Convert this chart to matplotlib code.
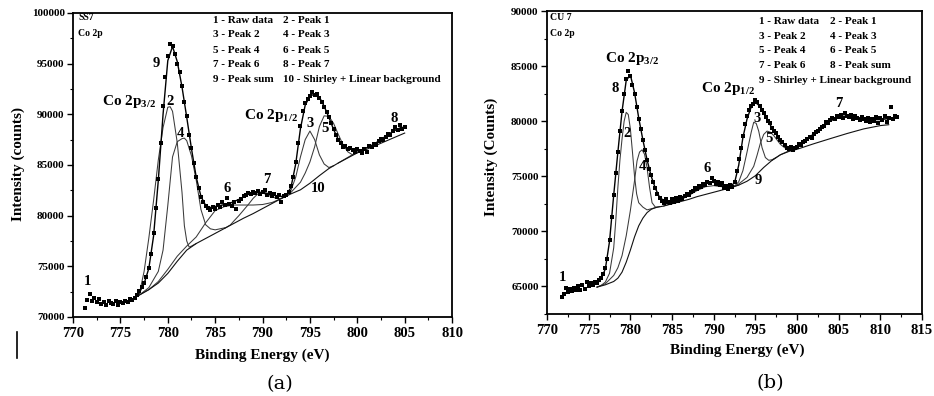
import numpy as np
import matplotlib
matplotlib.use("Agg")
import matplotlib.pyplot as plt
from matplotlib.ticker import MultipleLocator

plt.rcParams['font.family'] = ['Liberation Serif', 'DejaVu Serif']
plt.rcParams['mathtext.fontset'] = 'custom'
plt.rcParams['mathtext.rm'] = 'Liberation Serif'
plt.rcParams['mathtext.bf'] = 'Liberation Serif:bold'

# ---------------- Panel (a): SS7 Co 2p ----------------
a_raw_start, a_raw_step = 771.25, 0.25
a_raw = [
    70900, 71700, 72300, 71600,   # 771.25
    71900, 71500, 71800, 71300,   # 772.25
    71500, 71200, 71600, 71400,   # 773.25
    71300, 71600, 71200, 71500,   # 774.25
    71400, 71600, 71500, 71800,   # 775.25
    71700, 71900, 72200, 72600,   # 776.25
    73000, 73400, 73900, 74800,   # 777.25
    76200, 78300, 80800, 83600,   # 778.25
    87200, 90800, 93700, 95800,   # 779.25
    96900, 96700, 96000, 95000,   # 780.25
    94200, 92800, 91200, 89800,   # 781.25
    88000, 86700, 85200, 83800,   # 782.25
    82700, 81800, 81300, 81000,   # 783.25
    80800, 80600, 80900, 80700,   # 784.25
    81100, 80900, 81300, 81100,   # 785.25
    81700, 81200, 81000, 81300,   # 786.25
    80700, 81400, 81600, 81900,   # 787.25
    82000, 82200, 82100, 82300,   # 788.25
    82200, 82400, 82100, 82300,   # 789.25
    82500, 82000, 82200, 81900,   # 790.25
    82100, 81800, 82000, 81300,   # 791.25
    81900, 82000, 82300, 82900,   # 792.25
    83800, 85300, 87200, 88800,   # 793.25
    90300, 91100, 91500, 91800,   # 794.25
    92200, 91900, 92000, 91600,   # 795.25
    91200, 90700, 90200, 89700,   # 796.25
    89100, 88600, 88000, 87500,   # 797.25
    87200, 86800, 86900, 86600,   # 798.25
    86700, 86500, 86300, 86600,   # 799.25
    86400, 86200, 86600, 86300,   # 800.25
    86900, 86800, 87100, 87000,   # 801.25
    87400, 87600, 87500, 87800,   # 802.25
    88100, 88000, 88400, 88700,   # 803.25
    88500, 88900, 88600, 88700,   # 804.25
]

a_sum_E = [777.0, 777.5, 778.0, 778.5, 779.0, 779.5, 780.0, 780.5, 781.0, 781.5,
           782.0, 782.5, 783.0, 783.5, 784.0, 784.5, 785.0, 785.5, 786.0, 786.5,
           787.0, 787.5, 788.0, 788.5, 789.0, 789.5, 790.0, 790.5, 791.0, 791.5,
           792.0, 792.5, 793.0, 793.5, 794.0, 794.5, 795.0, 795.5, 796.0, 796.5,
           797.0, 797.5, 798.0, 798.5, 799.0, 799.5, 800.0, 800.5, 801.0, 801.5,
           802.0, 802.5, 803.0, 803.5, 804.0, 804.5, 805.0]
a_sum_I = [72400, 73300, 74800, 78000, 83500, 90000, 95300, 96700, 95200, 92700,
           89700, 86600, 83800, 81900, 81000, 80800, 80900, 81000, 81100, 81200,
           81400, 81600, 81850, 82100, 82250, 82300, 82300, 82200, 82050, 81950,
           81900, 82000, 82800, 85100, 88600, 90900, 91800, 92000, 91700, 90800,
           89700, 88500, 87500, 86900, 86600, 86500, 86450, 86500, 86700, 86900,
           87200, 87500, 87850, 88150, 88450, 88650, 88750]

a_bg_E = [777, 778, 779, 780, 781, 782, 783, 784, 785, 786, 787, 788, 789, 790,
          791, 792, 793, 794, 795, 796, 797, 798, 799, 800, 801, 802, 803, 804, 805]
a_bg_I = [72170, 72700, 73350, 74300, 75500, 76600, 77250, 77750, 78250, 78750,
          79250, 79750, 80200, 80700, 81200, 81700, 82150, 82550, 83200, 83950,
          84650, 85200, 85700, 86200, 86550, 86950, 87350, 87750, 88150]

a_p1_E = [777.0, 777.5, 778.0, 778.5, 779.0, 779.5, 780.0, 780.25, 780.5, 781.0,
          781.5, 781.75, 782.0, 782.25, 782.5, 783.0]
a_p1_I = [72300, 74500, 77800, 81500, 85500, 88700, 90700, 90750, 90300, 87200,
          82300, 79000, 77500, 76900, 77000, 77250]

a_p3_E = [777.0, 778.0, 779.0, 779.5, 780.0, 780.5, 781.0, 781.5, 781.75, 782.0,
          782.5, 783.0, 783.5, 784.0, 784.5, 785.0, 785.5, 786.0]
a_p3_I = [72170, 72900, 74500, 76600, 81000, 85800, 87300, 87600, 87650, 87400,
          85900, 83500, 80600, 79100, 78700, 78600, 78700, 78800]

a_p5_E = [777, 778, 779, 780, 781, 782, 783, 784, 785, 786, 787, 788, 789, 790, 791, 792]
a_p5_I = [72170, 72700, 73500, 74700, 76000, 77000, 77900, 79300, 80500, 80900,
          81050, 81050, 81050, 81100, 81300, 81700]

a_p6_E = [786.0, 786.6, 787.0, 787.5, 788.0, 788.5, 789.0, 789.5, 790.0, 790.5,
          791.0, 791.5, 792.0]
a_p6_I = [78750, 79080, 79500, 80000, 80550, 81100, 81700, 82150, 82250, 82050,
          81850, 81700, 81700]

a_p2_E = [792.0, 792.5, 793.0, 793.5, 794.0, 794.5, 795.0, 795.5, 796.0, 796.5, 797.0, 797.5]
a_p2_I = [81700, 81950, 82500, 83800, 85800, 87500, 88350, 87500, 86000, 85100, 84750, 84930]

a_p4_E = [792.0, 793.0, 794.0, 794.5, 795.0, 795.5, 796.0, 796.5, 797.0, 797.5,
          798.0, 798.5, 799.0, 799.5, 800.0]
a_p4_I = [81700, 82300, 83300, 84200, 85300, 86800, 88800, 89850, 89800, 89100,
          88000, 87000, 86300, 86000, 86200]

a_p7_E = [798, 799, 800, 801, 802, 803, 804, 805]
a_p7_I = [85200, 85750, 86300, 86700, 87200, 87800, 88400, 88750]

# ---------------- Panel (b): CU 7 Co 2p ----------------
b_raw_start, b_raw_step = 771.75, 0.25
b_raw = [
    64000, 64300, 64900, 64500,   # 771.75
    64800, 64600, 64900, 64700,   # 772.75
    65000, 64700, 65100, 64800,   # 773.75
    65400, 65000, 65300, 65100,   # 774.75
    65400, 65300, 65600, 65800,   # 775.75
    66100, 66700, 67500, 69200,   # 776.75
    71300, 73300, 75300, 77200,   # 777.75
    79100, 80900, 82500, 83800,   # 778.75
    84600, 84100, 83300, 82500,   # 779.75
    81300, 80200, 79300, 78300,   # 780.75
    77400, 76500, 75700, 75100,   # 781.75
    74500, 73900, 73400, 73000,   # 782.75
    72800, 72600, 72900, 72700,   # 783.75
    72600, 72900, 72700, 73000,   # 784.75
    72800, 73100, 72900, 73200,   # 785.75
    73400, 73300, 73600, 73700,   # 786.75
    73900, 73800, 74100, 74000,   # 787.75
    74300, 74200, 74500, 74400,   # 788.75
    74800, 74600, 74300, 74500,   # 789.75
    74200, 74400, 73900, 74100,   # 790.75
    73800, 74200, 74000, 74500,   # 791.75
    75500, 76600, 77600, 78700,   # 792.75
    79700, 80500, 81000, 81400,   # 793.75
    81600, 81900, 81700, 81400,   # 794.75
    81000, 80700, 80400, 80000,   # 795.75
    79800, 79400, 79100, 78900,   # 796.75
    78600, 78300, 78100, 77800,   # 797.75
    77600, 77500, 77700, 77400,   # 798.75
    77600, 77700, 77900, 77800,   # 799.75
    78100, 78200, 78400, 78600,   # 800.75
    78500, 78800, 79000, 79100,   # 801.75
    79300, 79500, 79600, 79900,   # 802.75
    79800, 80100, 80300, 80200,   # 803.75
    80500, 80400, 80600, 80300,   # 804.75
    80700, 80500, 80400, 80600,   # 805.75
    80200, 80500, 80300, 80100,   # 806.75
    80400, 80200, 80000, 80300,   # 807.75
    79900, 80200, 80000, 80400,   # 808.75
    79800, 80300, 80100, 80500,   # 809.75
    79900, 80300, 81300, 80200,   # 810.75
    80500, 80400,                 # 811.75
]

b_sum_E = [776.0, 776.5, 777.0, 777.5, 778.0, 778.5, 779.0, 779.5, 780.0, 780.5,
           781.0, 781.5, 782.0, 782.5, 783.0, 783.5, 784.0, 784.5, 785.0, 785.5,
           786.0, 786.5, 787.0, 787.5, 788.0, 788.5, 789.0, 789.5, 790.0, 790.5,
           791.0, 791.5, 792.0, 792.5, 793.0, 793.5, 794.0, 794.5, 795.0, 795.5,
           796.0, 796.5, 797.0, 797.5, 798.0, 798.5, 799.0, 799.5, 800.0, 800.5,
           801.0, 801.5, 802.0, 802.5, 803.0, 803.5, 804.0, 804.5, 805.0, 805.5,
           806.0, 806.5, 807.0, 807.5, 808.0, 808.5, 809.0, 809.5, 810.0, 810.5, 811.0]
b_sum_I = [65250, 65700, 66600, 69100, 73300, 77200, 80900, 83700, 84200, 82600,
           80300, 78300, 76500, 75000, 73900, 73100, 72800, 72750, 72800, 72900,
           73050, 73250, 73450, 73700, 73950, 74150, 74300, 74450, 74450, 74350,
           74200, 74100, 74100, 74400, 76000, 78500, 80200, 81300, 81700, 81400,
           80700, 80000, 79400, 78850, 78300, 77850, 77600, 77600, 77750, 77950,
           78250, 78550, 78850, 79150, 79450, 79750, 80050, 80250, 80400, 80450,
           80450, 80400, 80350, 80300, 80250, 80200, 80150, 80150, 80150, 80200, 80250]

b_bg_E = [776.0, 777.0, 778.0, 778.5, 779.0, 779.5, 780.0, 780.5, 781.0, 781.5,
          782.0, 782.5, 783.0, 784, 785, 786, 787, 788, 789, 790, 791, 792, 793,
          794, 795, 796, 797, 798, 799, 800, 802, 804, 806, 808, 810, 811]
b_bg_I = [64940, 65150, 65450, 65750, 66300, 67200, 68300, 69500, 70500, 71200,
          71700, 72000, 72150, 72300, 72500, 72700, 72900, 73150, 73350, 73550,
          73750, 73950, 74200, 74550, 75050, 75800, 76450, 76950, 77250, 77450,
          77950, 78420, 78880, 79300, 79600, 79680]

b_p1_E = [776.0, 776.5, 777.0, 777.5, 778.0, 778.25, 778.5, 778.75, 779.0, 779.25,
          779.5, 779.75, 780.0, 780.25, 780.5, 780.75, 781.0, 781.5, 782.0, 782.5, 783.0]
b_p1_I = [64940, 65100, 65400, 66200, 68500, 71000, 74000, 76500, 78400, 80000,
          80800, 80600, 79300, 77200, 75000, 73400, 72600, 72200, 71950, 72050, 72150]

b_p3_E = [776.0, 777.0, 778.0, 778.5, 779.0, 779.5, 780.0, 780.5, 780.8, 781.1,
          781.4, 781.7, 782.0, 782.3, 782.6, 783.0, 783.5]
b_p3_I = [64940, 65250, 66000, 66700, 67800, 69600, 71900, 74600, 76400, 77200,
          77400, 77000, 75800, 74000, 72600, 72200, 72250]

b_p5_E = [784, 785, 786, 787, 788, 789, 790, 791, 792, 793]
b_p5_I = [72300, 72550, 72850, 73250, 73700, 74050, 74150, 74050, 74000, 74200]

b_p2_E = [792.0, 792.5, 793.0, 793.5, 794.0, 794.5, 794.8, 795.1, 795.4, 795.8,
          796.2, 796.6, 797.0, 797.5]
b_p2_I = [73950, 74100, 74500, 75500, 77200, 79000, 79900, 79800, 79100, 77600,
          76700, 76450, 76500, 76700]

b_p4_E = [792.0, 793.0, 794.0, 794.8, 795.2, 795.6, 796.0, 796.4, 796.8, 797.2,
          797.6, 798.0, 798.5, 799.0, 799.6]
b_p4_I = [73950, 74300, 74900, 75900, 76900, 78000, 78800, 79100, 79000, 78700,
          78300, 77900, 77600, 77400, 77400]

b_p6_E = [797, 798, 799, 800, 801, 802, 803, 804, 805, 806, 807, 808, 809, 810, 811]
b_p6_I = [76450, 76950, 77300, 77700, 78150, 78750, 79400, 80000, 80350, 80450,
          80350, 80250, 80150, 80150, 80250]

a_legend = [("1 - Raw data", "2 - Peak 1"), ("3 - Peak 2", "4 - Peak 3"),
            ("5 - Peak 4", "6 - Peak 5"), ("7 - Peak 6", "8 - Peak 7"),
            ("9 - Peak sum", "10 - Shirley + Linear background")]
b_legend = [("1 - Raw data", "2 - Peak 1"), ("3 - Peak 2", "4 - Peak 3"),
            ("5 - Peak 4", "6 - Peak 5"), ("7 - Peak 6", "8 - Peak sum"),
            ("9 - Shirley + Linear background", "")]

fig = plt.figure(figsize=(9.34, 3.96), dpi=100)
axa = fig.add_axes([0.0782, 0.1995, 0.4058, 0.7677])
axb = fig.add_axes([0.5857, 0.2071, 0.4015, 0.7651])

PEAK_KW = dict(color='#3a3a3a', lw=0.75, zorder=2)
BG_KW = dict(color='#111111', lw=0.8, zorder=2)
SUM_KW = dict(color='#000000', lw=1.0, zorder=3)
RAW_KW = dict(ls='none', marker='s', ms=2.6, color='black', mec='black', mew=0, zorder=4)


def style_axes(ax, xlim, ylim, xmaj, ymaj):
    ax.set_xlim(*xlim)
    ax.set_ylim(*ylim)
    ax.xaxis.set_major_locator(MultipleLocator(xmaj))
    ax.xaxis.set_minor_locator(MultipleLocator(xmaj / 2))
    ax.yaxis.set_major_locator(MultipleLocator(ymaj))
    ax.yaxis.set_minor_locator(MultipleLocator(ymaj / 2))
    ax.tick_params(axis='both', which='major', direction='out', length=4, width=1.0)
    ax.tick_params(axis='both', which='minor', direction='out', length=2.5, width=0.8)
    ax.tick_params(top=False, right=False, which='both')
    ax.tick_params(axis='x', labelsize=10.5, pad=3)
    ax.tick_params(axis='y', labelsize=8, pad=2)
    for lab in ax.get_xticklabels() + ax.get_yticklabels():
        lab.set_fontweight('bold')
    for sp in ax.spines.values():
        sp.set_linewidth(1.3)


# ---- panel a
Ea = a_raw_start + a_raw_step * np.arange(len(a_raw))
for E, I in [(a_p1_E, a_p1_I), (a_p3_E, a_p3_I), (a_p5_E, a_p5_I), (a_p6_E, a_p6_I),
             (a_p2_E, a_p2_I), (a_p4_E, a_p4_I), (a_p7_E, a_p7_I)]:
    axa.plot(E, I, **PEAK_KW)
axa.plot(a_bg_E, a_bg_I, **BG_KW)
axa.plot(a_sum_E, a_sum_I, **SUM_KW)
axa.plot(Ea, a_raw, **RAW_KW)
style_axes(axa, (770, 810), (70000, 100000), 5, 5000)

TXT = dict(fontweight='bold', ha='center', va='center', zorder=6)
axa.text(778.8, 95040, "9", fontsize=10.5, **TXT)
axa.text(775.9, 91300, r"Co 2p$_{\mathbf{3/2}}$", fontsize=11, **TXT)
axa.text(780.2, 91250, "2", fontsize=10.5, **TXT)
axa.text(781.3, 88130, "4", fontsize=10.5, **TXT)
axa.text(790.9, 89900, r"Co 2p$_{\mathbf{1/2}}$", fontsize=11, **TXT)
axa.text(795.0, 89100, "3", fontsize=10.5, **TXT)
axa.text(796.6, 88620, "5", fontsize=10.5, **TXT)
axa.text(803.9, 89610, "8", fontsize=10.5, **TXT)
axa.text(790.4, 83520, "7", fontsize=10.5, **TXT)
axa.text(786.3, 82700, "6", fontsize=10.5, **TXT)
axa.text(795.9, 82700, "10", fontsize=10.5, **TXT)
axa.text(771.5, 73480, "1", fontsize=10.5, **TXT)

axa.text(0.013, 0.984, "SS7", transform=axa.transAxes, fontsize=7, fontweight='bold', va='center')
axa.text(0.013, 0.934, "Co 2p", transform=axa.transAxes, fontsize=7, fontweight='bold', va='center')
rows_a = [0.975, 0.928, 0.878, 0.829, 0.782]
for (c1, c2), yy in zip(a_legend, rows_a):
    axa.text(0.370, yy, c1, transform=axa.transAxes, fontsize=8, fontweight='bold', va='center')
    axa.text(0.555, yy, c2, transform=axa.transAxes, fontsize=8, fontweight='bold', va='center')

# ---- panel b
Eb = b_raw_start + b_raw_step * np.arange(len(b_raw))
for E, I in [(b_p1_E, b_p1_I), (b_p3_E, b_p3_I), (b_p5_E, b_p5_I),
             (b_p2_E, b_p2_I), (b_p4_E, b_p4_I), (b_p6_E, b_p6_I)]:
    axb.plot(E, I, **PEAK_KW)
axb.plot(b_bg_E, b_bg_I, **BG_KW)
axb.plot(b_sum_E, b_sum_I, **SUM_KW)
axb.plot(Eb, b_raw, **RAW_KW)
style_axes(axb, (770, 815), (62500, 90000), 5, 5000)

axb.text(780.2, 85700, r"Co 2p$_{\mathbf{3/2}}$", fontsize=11, **TXT)
axb.text(778.2, 82970, "8", fontsize=10.5, **TXT)
axb.text(779.6, 78880, "2", fontsize=10.5, **TXT)
axb.text(781.4, 75850, "4", fontsize=10.5, **TXT)
axb.text(791.7, 82970, r"Co 2p$_{\mathbf{1/2}}$", fontsize=11, **TXT)
axb.text(795.2, 80240, "3", fontsize=10.5, **TXT)
axb.text(796.6, 78420, "5", fontsize=10.5, **TXT)
axb.text(789.2, 75700, "6", fontsize=10.5, **TXT)
axb.text(795.4, 74640, "9", fontsize=10.5, **TXT)
axb.text(805.0, 81610, "7", fontsize=10.5, **TXT)
axb.text(771.8, 65850, "1", fontsize=10.5, **TXT)

axb.text(0.008, 0.977, "CU 7", transform=axb.transAxes, fontsize=7, fontweight='bold', va='center')
axb.text(0.008, 0.927, "Co 2p", transform=axb.transAxes, fontsize=7, fontweight='bold', va='center')
rows_b = [0.965, 0.917, 0.869, 0.821, 0.772]
for (c1, c2), yy in zip(b_legend, rows_b):
    axb.text(0.566, yy, c1, transform=axb.transAxes, fontsize=8, fontweight='bold', va='center')
    if c2:
        axb.text(0.755, yy, c2, transform=axb.transAxes, fontsize=8, fontweight='bold', va='center')

# axis titles
fig.text(0.281, 0.1035, "Binding Energy (eV)", fontsize=11, fontweight='bold', ha='center', va='center')
fig.text(0.7896, 0.116, "Binding Energy (eV)", fontsize=11, fontweight='bold', ha='center', va='center')
fig.text(0.0198, 0.587, "Intensity (counts)", fontsize=11, fontweight='bold', ha='center', va='center', rotation=90)
fig.text(0.5262, 0.603, "Intensity (Counts)", fontsize=11, fontweight='bold', ha='center', va='center', rotation=90)

fig.text(0.2998, 0.0303, "(a)", fontsize=14, family='DejaVu Serif', ha='center', va='center')
fig.text(0.8244, 0.0328, "(b)", fontsize=14, family='DejaVu Serif', ha='center', va='center')

# stray vertical bar at lower left of the original figure
fig.add_artist(plt.Line2D([0.0182, 0.0182], [0.096, 0.162], color='black', lw=1.2))

fig.savefig("out.png", dpi=100)
